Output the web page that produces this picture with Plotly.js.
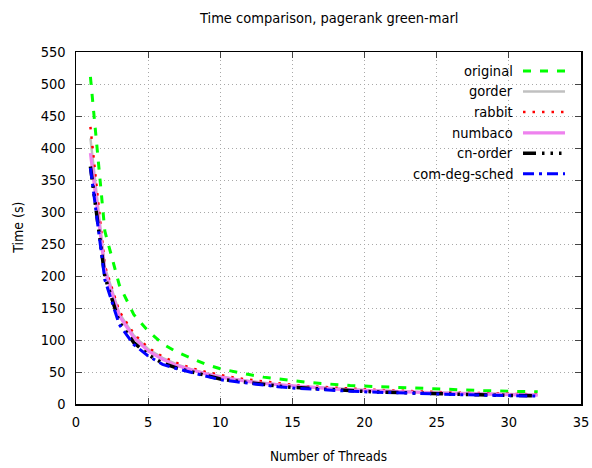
<!DOCTYPE html>
<html>
<head>
<meta charset="utf-8">
<script src="https://cdn.plot.ly/plotly-3.0.1.min.js"></script>
<style>html,body{margin:0;padding:0;background:#fff;}#chart{width:592px;height:468px;}</style>
</head>
<body>
<div id="chart"></div>
<script>
const threads = [1,2,3,4,5,6,7,8,9,10,11,12,13,14,15,16,17,18,19,20,21,22,23,24,25,26,27,28,29,30,31,32];
const original = [511,270,186,140,114,94,81,71,62,55,50,46,42,39,36,34,32,30,29,28,27,26,25,24,23,22,21.5,21,20.5,20,19.5,19];
const gorder = [415,214,142,107,86,72,62,54,48,43,39,36,33,30.5,28.5,27,25.5,24,23,22,21,20,19.3,18.6,18,17.4,16.8,16.3,15.8,15.3,15,14.6];
const rabbit = [433,216,145,110,88,74,64,56,50,45,41,38,35,32,30,28,26.5,25,24,23,22,21,20,19.5,19,18,17.5,17,16.5,16,15.5,15];
const numbaco = [392,208,138,104,83,70,60,53,47,42,38,35,32,30,28,26,24.5,23.2,22,21,20,19.2,18.5,17.8,17.2,16.6,16,15.5,15,14.6,14.2,13.8];
const cnOrder = [371,199,128,96,77,64,56,50,44,39,36,33,30,28,26,24.5,23,21.8,20.7,19.7,18.8,18,17.2,16.5,15.9,15.3,14.8,14.3,13.8,13.4,13,12.6];
const comDegSched = [369,194,124,93,75,62,55,49,43,38,35,32,29,27,25,23.5,22,21,20,19,18.2,17.4,16.7,16,15.4,14.9,14.4,13.9,13.4,13,12.6,12.3];

const seriesNames = ['original','gorder','rabbit','numbaco','cn-order','com-deg-sched'];
const seriesData = [original, gorder, rabbit, numbaco, cnOrder, comDegSched];
const styles = [
  {color:'#00ff00', width:3, dash:'8px,9px'},
  {color:'#c0c0c0', width:2.5, dash:'solid'},
  {color:'#ff0000', width:2.5, dash:'2.5px,7px'},
  {color:'#ee82ee', width:3.2, dash:'solid'},
  {color:'#000000', width:3.5, dash:'13px,6px,2.5px,6px,2.5px,6px,2.5px,6px'},
  {color:'#0000ff', width:3, dash:'11px,5px,3px,5px'}
];

const FONT = '"DejaVu Sans Condensed", "DejaVu Sans", sans-serif';

const traces = seriesNames.map((n,i)=>({
  x: threads, y: seriesData[i], name: n, mode:'lines', type:'scatter',
  line: {color: styles[i].color, width: styles[i].width, dash: styles[i].dash},
  showlegend:false
}));

const L=76, R=581, T=52, B=404.5, W=592, H=468;
const px = v => (v-L)/(R-L);
const py = v => (B-v)/(B-T);

const annotations = [
  {text:'Time comparison, pagerank green-marl', xref:'paper', yref:'paper', x:0.5, y:py(18), xanchor:'center', yanchor:'middle', showarrow:false, font:{family:FONT,size:14.5,color:'#000'}},
  {text:'Number of Threads', xref:'paper', yref:'paper', x:0.5, y:py(457), xanchor:'center', yanchor:'middle', showarrow:false, font:{family:FONT,size:13.5,color:'#000'}},
  {text:'Time (s)', xref:'paper', yref:'paper', x:px(18), y:py(228), xanchor:'center', yanchor:'middle', textangle:-90, showarrow:false, font:{family:FONT,size:14,color:'#000'}}
];
const shapes = [];
const rowY = [71, 91.5, 112, 133, 153.5, 174];
seriesNames.forEach((n,i)=>{
  annotations.push({text:n, xref:'paper', yref:'paper', x:px(515), y:py(rowY[i]), xanchor:'right', yanchor:'middle', showarrow:false, font:{family:FONT,size:14.5,color:'#000'}});
  shapes.push({type:'line', xref:'paper', yref:'paper', x0:px(523), x1:px(565), y0:py(rowY[i]), y1:py(rowY[i]), line:{color:styles[i].color, width:styles[i].width, dash:styles[i].dash}});
});

const layout = {
  width:W, height:H,
  margin:{l:L, r:W-R, t:T, b:H-B, pad:0},
  paper_bgcolor:'#fff', plot_bgcolor:'#fff',
  font:{family:FONT, size:14, color:'#000'},
  showlegend:false,
  xaxis:{range:[0,35], tickvals:[0,5,10,15,20,25,30,35], ticks:'inside', ticklen:6, tickcolor:'#444', mirror:'ticks', showline:true, linecolor:'#000', linewidth:1.5,
    showgrid:true, gridcolor:'#a8a8a8', griddash:'1px,3px', gridwidth:1, zeroline:false, tickfont:{family:FONT,size:14.5}, ticklabelstandoff:4},
  yaxis:{range:[0,550], tickvals:[0,50,100,150,200,250,300,350,400,450,500,550], ticks:'inside', ticklen:6, tickcolor:'#444', mirror:'ticks', showline:true, linecolor:'#000', linewidth:1.5,
    showgrid:true, gridcolor:'#a8a8a8', griddash:'1px,3px', gridwidth:1, zeroline:false, tickfont:{family:FONT,size:14.5}, ticklabelstandoff:6},
  annotations: annotations,
  shapes: shapes
};

Plotly.newPlot('chart', traces, layout, {staticPlot:true, displayModeBar:false});
</script>
</body>
</html>
